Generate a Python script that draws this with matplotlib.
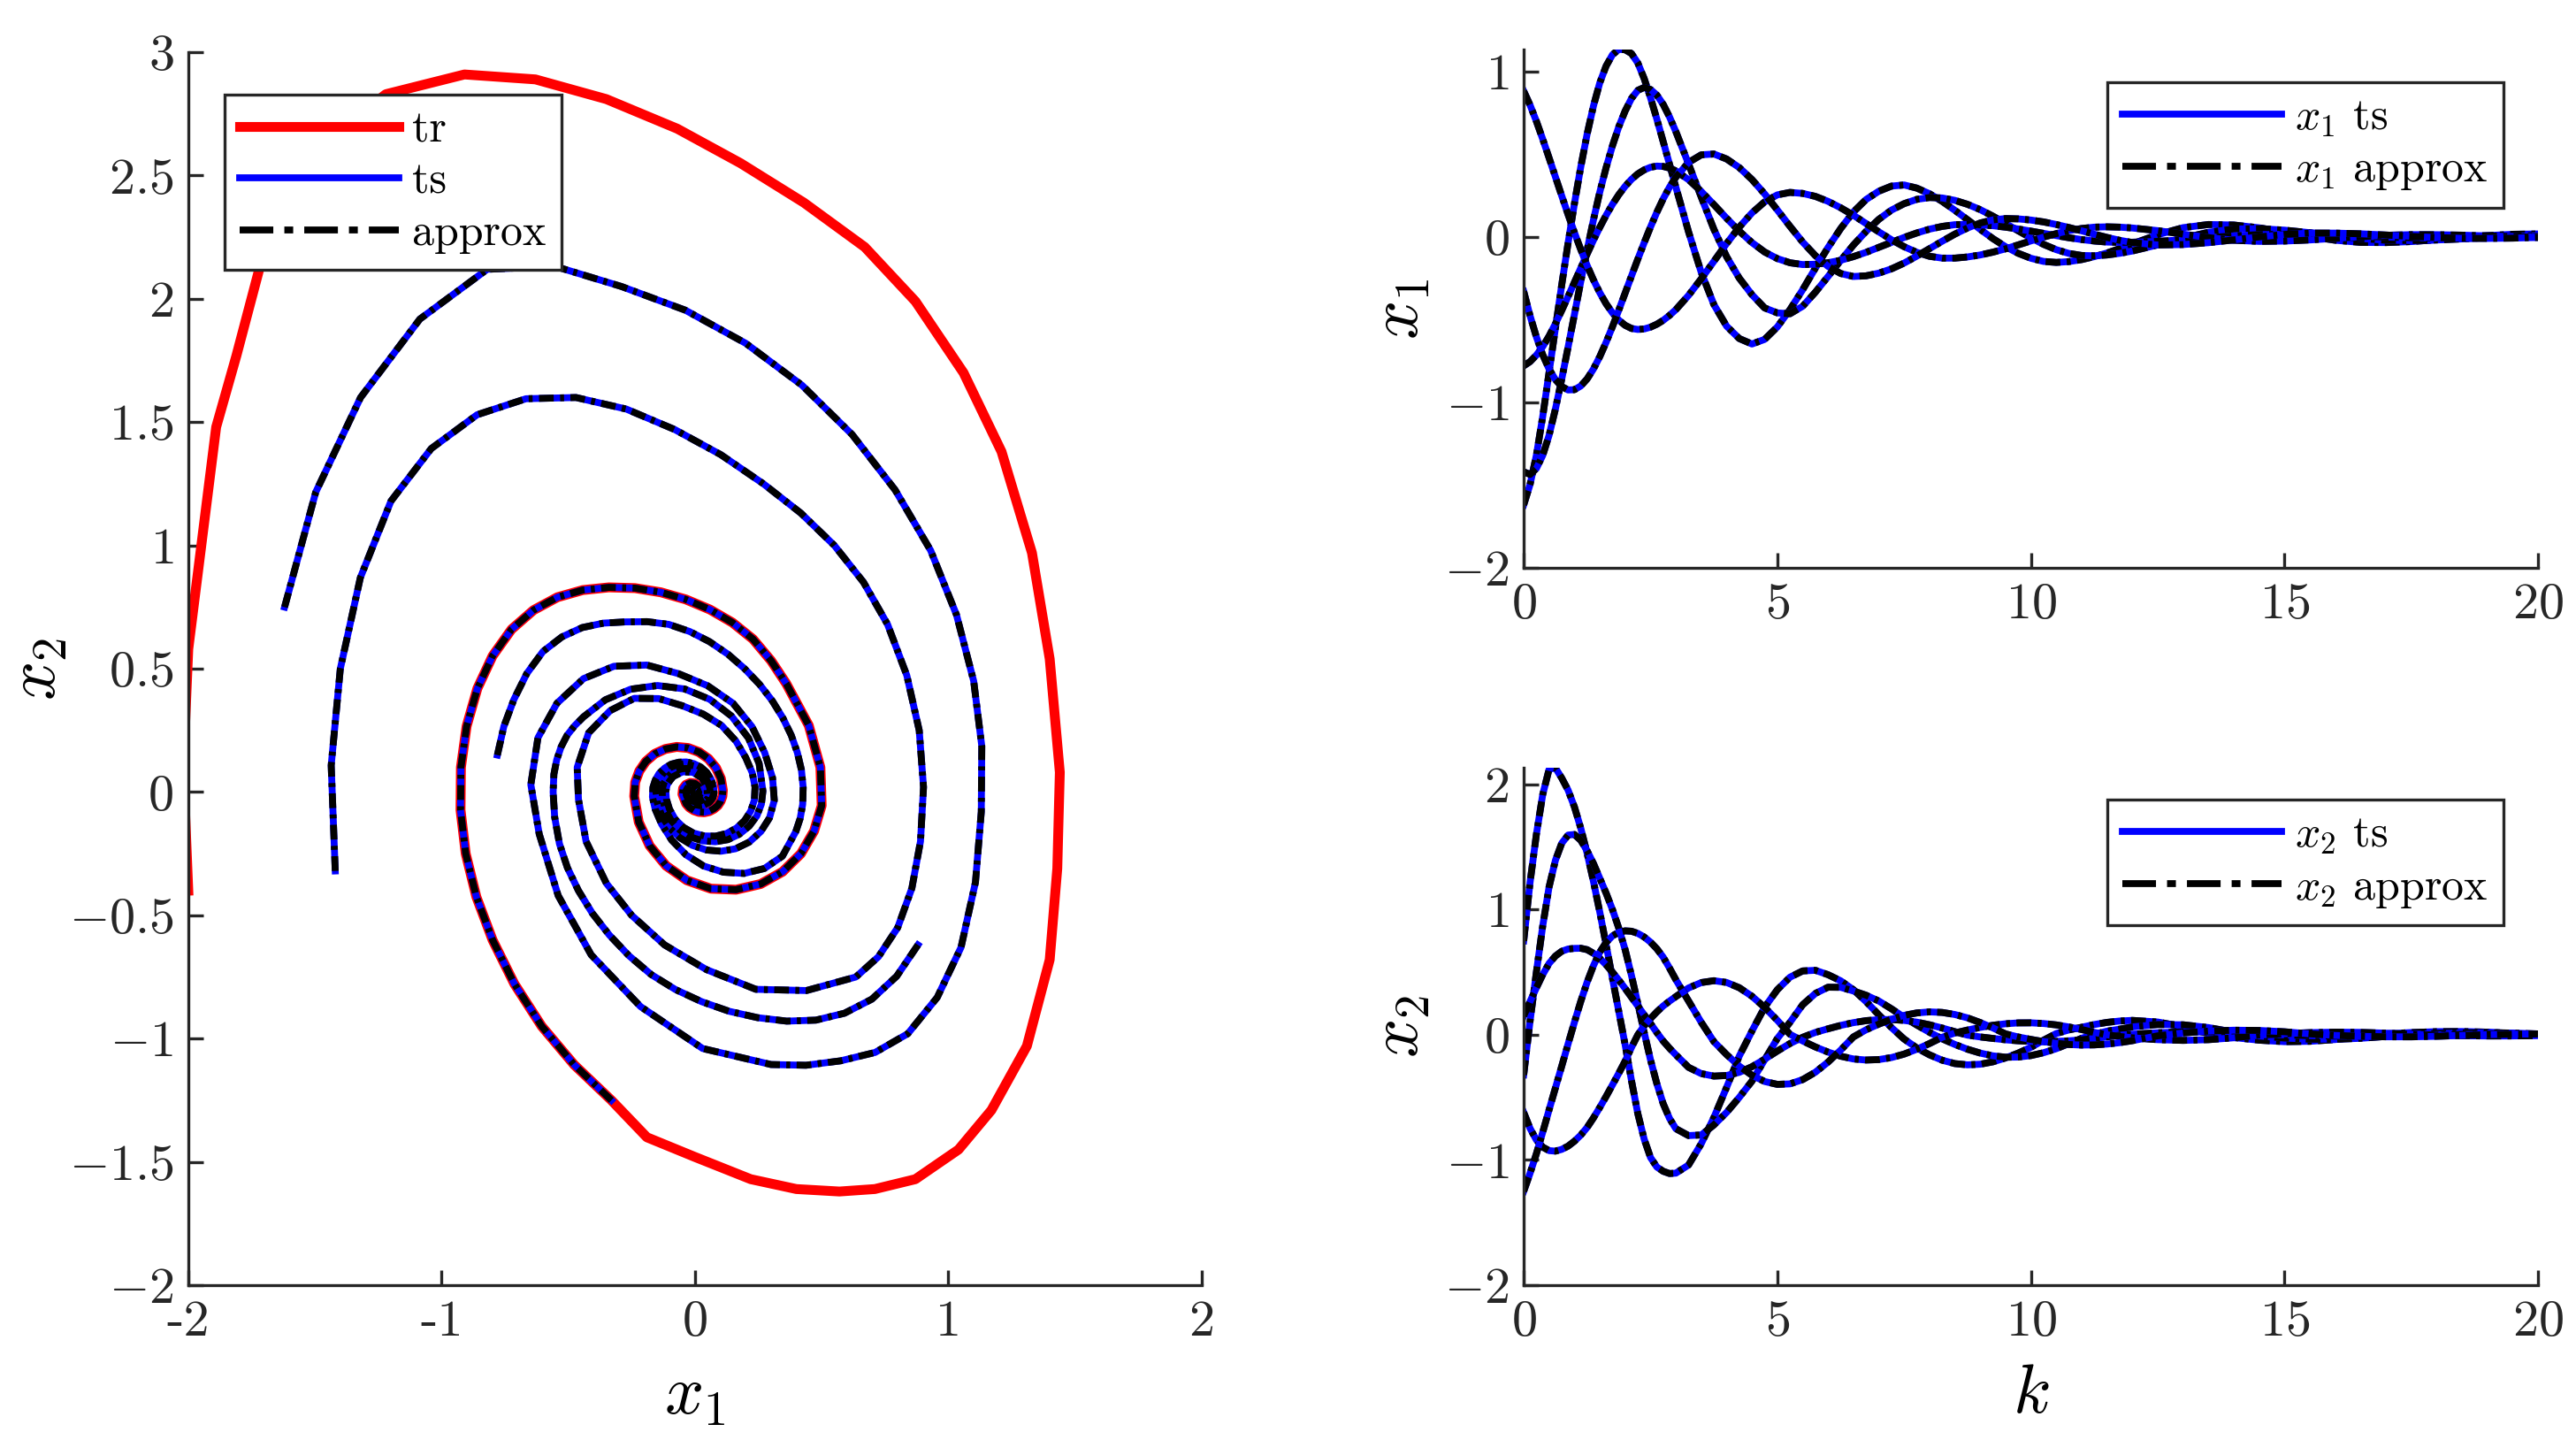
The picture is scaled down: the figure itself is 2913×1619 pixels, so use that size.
import matplotlib
matplotlib.use("Agg")
import matplotlib.pyplot as plt
from matplotlib.lines import Line2D
from matplotlib.ticker import FuncFormatter

plt.rcParams['font.family'] = 'serif'
plt.rcParams['font.serif'] = ['cmr10']
plt.rcParams['mathtext.fontset'] = 'cm'
plt.rcParams['axes.formatter.use_mathtext'] = True
plt.rcParams['lines.scale_dashes'] = False

# time axis (finer where the states move fast)
k = [0, 0.125, 0.25, 0.375, 0.5, 0.625, 0.75, 0.875, 1, 1.125, 1.25, 1.375, 1.5, 1.625,
     1.75, 1.875, 2, 2.125, 2.25, 2.375, 2.5, 2.625, 2.75, 2.875, 3,
     3.25, 3.5, 3.75, 4, 4.25, 4.5, 4.75, 5, 5.25, 5.5, 5.75, 6,
     6.25, 6.5, 6.75, 7, 7.25, 7.5, 7.75, 8, 8.25, 8.5, 8.75, 9, 9.25, 9.5, 9.75, 10,
     10.25, 10.5, 10.75, 11, 11.25, 11.5, 11.75, 12,
     12.5, 13, 13.5, 14, 14.5, 15, 15.5, 16, 16.5, 17, 17.5, 18, 18.5, 19, 19.5, 20]

# five test trajectories (x1, x2)
x1_a = [-1.62, -1.497, -1.32, -1.086, -0.82, -0.553, -0.29, -0.038, 0.20, 0.422, 0.62, 0.790,
        0.93, 1.032, 1.10, 1.132, 1.13, 1.107, 1.05, 0.956, 0.84, 0.711, 0.575, 0.438, 0.30,
        0.03, -0.215, -0.41, -0.54, -0.615, -0.648, -0.62, -0.545, -0.44, -0.32, -0.19, -0.065,
        0.05, 0.15, 0.225, 0.275, 0.306, 0.313, 0.294, 0.26, 0.214, 0.16, 0.103, 0.045, -0.011,
        -0.06, -0.100, -0.13, -0.149, -0.155, -0.150, -0.138, -0.120, -0.098, -0.0715, -0.043,
        0.0125, 0.055, 0.074, 0.071, 0.054, 0.029, 0.0018, -0.021, -0.034, -0.035, -0.029,
        -0.018, -0.005, 0.007, 0.015, 0.017]
x2_a = [0.75, 1.216, 1.60, 1.918, 2.12, 2.132, 2.05, 1.954, 1.82, 1.65, 1.45, 1.225, 0.98,
        0.719, 0.45, 0.186, -0.08, -0.366, -0.63, -0.833, -0.98, -1.056, -1.09, -1.108, -1.105,
        -1.04, -0.87, -0.66, -0.42, -0.17, 0.03, 0.22, 0.36, 0.46, 0.51, 0.515, 0.48,
        0.431, 0.36, 0.265, 0.16, 0.058, -0.034, -0.105, -0.16, -0.203, -0.23, -0.24, -0.235,
        -0.216, -0.185, -0.146, -0.10, -0.043, 0.01, 0.039, 0.06, 0.082, 0.099, 0.110, 0.115,
        0.102, 0.065, 0.011, -0.022, -0.043, -0.055, -0.052, -0.038, -0.014, 0.007, 0.018,
        0.025, 0.026, 0.021, 0.010, 0.0]

x1_b = [-1.42, -1.436, -1.40, -1.321, -1.20, -1.041, -0.86, -0.667, -0.47, -0.271, -0.08,
        0.102, 0.27, 0.418, 0.55, 0.665, 0.76, 0.836, 0.885, 0.902, 0.89, 0.856, 0.80, 0.724,
        0.635,
        0.44, 0.24, 0.045, -0.12, -0.25, -0.35, -0.43, -0.46, -0.465, -0.42, -0.335, -0.24,
        -0.143, -0.05, 0.0325, 0.105, 0.161, 0.20, 0.226, 0.237, 0.2345, 0.22, 0.196, 0.164,
        0.1245, 0.081, 0.036, -0.007, -0.046, -0.078, -0.1007, -0.113, -0.115, -0.11, -0.100,
        -0.086,
        -0.049, -0.008, 0.027, 0.047, 0.049, 0.04, 0.0244, 0.006, -0.0103, -0.021, -0.0228,
        -0.0195, -0.013, -0.005, 0.003, 0.008]
x2_b = [-0.32, 0.108, 0.50, 0.869, 1.18, 1.393, 1.53, 1.595, 1.60, 1.553, 1.47, 1.368, 1.25,
        1.131, 1.00, 0.851, 0.68, 0.473, 0.25, 0.02, -0.20, -0.39, -0.55, -0.668, -0.75,
        -0.805, -0.80, -0.72, -0.62, -0.50, -0.37, -0.20, -0.03, 0.10, 0.24, 0.33, 0.38,
        0.379, 0.35, 0.316, 0.27, 0.2075, 0.14, 0.078, 0.02, -0.032, -0.077, -0.1155, -0.146,
        -0.168, -0.179, -0.178, -0.166, -0.143, -0.111, -0.0696, -0.028, 0.0036, 0.029, 0.045,
        0.063,
        0.082, 0.08, 0.0576, 0.021, -0.0093, -0.026, -0.0353, -0.036, -0.028, -0.013, 0.0025,
        0.010, 0.0153, 0.017, 0.0137, 0.007]

x1_c = [-0.78, -0.7545, -0.715, -0.664, -0.60, -0.5255, -0.445, -0.361, -0.275, -0.189,
        -0.104, -0.021, 0.057, 0.130, 0.196, 0.2545, 0.305, 0.347, 0.38, 0.404, 0.42, 0.427,
        0.425, 0.415, 0.398,
        0.345, 0.274, 0.194, 0.112, 0.034, -0.035, -0.092, -0.132, -0.157, -0.168, -0.166,
        -0.157,
        -0.142, -0.12, -0.094, -0.064, -0.034, -0.004, 0.023, 0.046, 0.0625, 0.073, 0.075,
        0.072, 0.0668, 0.058, 0.047, 0.034, 0.0205, 0.007, -0.006, -0.017, -0.0257, -0.032,
        -0.034, -0.033,
        -0.028, -0.018, -0.0058, 0.0055, 0.013, 0.015, 0.013, 0.0088, 0.0035, -0.0018, -0.0056,
        -0.007, -0.0064, -0.004, -0.0023, 0.002]
x2_c = [0.15, 0.266, 0.375, 0.4805, 0.57, 0.629, 0.667, 0.685, 0.69, 0.691, 0.68, 0.651, 0.61,
        0.559, 0.50, 0.437, 0.37, 0.30, 0.23, 0.16, 0.09, 0.018, -0.05, -0.1075, -0.16,
        -0.26, -0.31, -0.33, -0.325, -0.30, -0.255, -0.195, -0.13, -0.07, -0.02, 0.019, 0.048,
        0.075, 0.097, 0.113, 0.121, 0.122, 0.115, 0.101, 0.080, 0.054, 0.025, -0.0028, -0.017,
        -0.029, -0.040, -0.048, -0.053, -0.055, -0.053, -0.048, -0.040, -0.029, -0.017, -0.003,
        0.005,
        0.016, 0.023, 0.0245, 0.020, 0.0098, -0.001, -0.0063, -0.010, -0.0111, -0.0095, -0.0054,
        0.0, 0.0024, 0.005, 0.0049, 0.004]

x1_d = [0.88, 0.796, 0.698, 0.590, 0.477, 0.362, 0.247, 0.1345, 0.026, -0.077, -0.173,
        -0.2605, -0.338, -0.405, -0.46, -0.5035, -0.535, -0.554, -0.56, -0.557, -0.546,
        -0.5285, -0.505, -0.475, -0.44,
        -0.354, -0.254, -0.148, -0.041, 0.058, 0.144, 0.211, 0.253, 0.268, 0.262, 0.244, 0.214,
        0.175, 0.13, 0.080, 0.03, -0.018, -0.06, -0.094, -0.118, -0.129, -0.129, -0.122, -0.110,
        -0.093, -0.073, -0.049, -0.025, -0.002, 0.019, 0.037, 0.050, 0.058, 0.06, 0.058, 0.053,
        0.037, 0.016, -0.0053, -0.021, -0.028, -0.026, -0.0192, -0.0096, 0.0006, 0.009, 0.0128,
        0.0125, 0.0097, 0.0054, 0.0007, -0.0034]
x2_d = [-0.62, -0.747, -0.84, -0.897, -0.925, -0.929, -0.915, -0.889, -0.85, -0.801, -0.74,
        -0.664, -0.58, -0.492, -0.40, -0.307, -0.21, -0.101, 0.0, 0.072, 0.13, 0.183, 0.23,
        0.269, 0.305,
        0.374, 0.417, 0.432, 0.418, 0.376, 0.308, 0.219, 0.116, 0.004, -0.049, -0.097, -0.138,
        -0.171, -0.193, -0.2016, -0.198, -0.182, -0.154, -0.1155, -0.07, -0.020, 0.0145, 0.038,
        0.059, 0.076, 0.088, 0.095, 0.0955, 0.090, 0.079, 0.0625, 0.042, 0.019, 0.0, -0.0133,
        -0.024,
        -0.039, -0.0446, -0.039, -0.024, -0.0022, 0.009, 0.0172, 0.021, 0.0193, 0.013, 0.0032,
        -0.003, -0.0073, -0.0094, -0.0092, -0.0066]

x1_e = [-0.33, -0.477, -0.605, -0.713, -0.799, -0.863, -0.905, -0.9255, -0.924, -0.9015,
        -0.859, -0.799, -0.724, -0.6375, -0.543, -0.443, -0.34, -0.237, -0.135, -0.036, 0.059,
        0.148, 0.229, 0.300, 0.36,
        0.449, 0.495, 0.50, 0.47, 0.418, 0.346, 0.259, 0.162, 0.063, -0.032, -0.114, -0.179,
        -0.222, -0.24, -0.236, -0.22, -0.194, -0.159, -0.117, -0.072, -0.027, 0.016, 0.053,
        0.083, 0.102, 0.11, 0.108, 0.101, 0.0897, 0.074, 0.0558, 0.036, 0.0153, -0.004,
        -0.0214, -0.035,
        -0.0496, -0.047, -0.0358, -0.019, -0.0008, 0.014, 0.0223, 0.022, 0.0179, 0.0106, 0.0024,
        -0.005, -0.0092, -0.01, -0.0082, -0.004]
x2_e = [-1.25, -1.106, -0.95, -0.778, -0.60, -0.425, -0.25, -0.073, 0.10, 0.267, 0.42, 0.552,
        0.66, 0.7375, 0.79, 0.819, 0.83, 0.827, 0.81, 0.781, 0.74, 0.687, 0.62, 0.533, 0.44,
        0.27, 0.10, -0.055, -0.158, -0.25, -0.323, -0.373, -0.396, -0.392, -0.358, -0.299,
        -0.218,
        -0.122, -0.017, 0.040, 0.085, 0.124, 0.155, 0.1746, 0.183, 0.1786, 0.162, 0.135, 0.098,
        0.055, 0.007, -0.0175, -0.037, -0.0546, -0.068, -0.0776, -0.082, -0.0806, -0.074,
        -0.0628, -0.047,
        -0.0084, 0.0146, 0.0293, 0.0366, 0.0347, 0.024, 0.0074, -0.005, -0.0121, -0.016, -0.0162,
        -0.012, -0.005, 0.001, 0.005, 0.007]

# training trajectory, outer part (it then runs along trajectory e)
tr_x1 = [-2.0, -2.02, -2.0, -1.89, -1.81, -1.72, -1.62, -1.45, -1.22, -0.91, -0.63, -0.35,
         -0.07, 0.18, 0.43, 0.67, 0.87, 1.06, 1.21, 1.33, 1.40, 1.44, 1.43, 1.40, 1.31, 1.17,
         1.04, 0.87, 0.71, 0.57, 0.40, 0.22, 0.0, -0.19]
tr_x2 = [-0.40, 0.10, 0.58, 1.48, 1.77, 2.12, 2.40, 2.65, 2.83, 2.91, 2.89, 2.81, 2.69, 2.55,
         2.39, 2.21, 1.99, 1.70, 1.38, 0.97, 0.54, 0.08, -0.31, -0.68, -1.03, -1.29, -1.45,
         -1.57, -1.61, -1.62, -1.61, -1.57, -1.48, -1.40]

x1_all = [x1_a, x1_b, x1_c, x1_d, x1_e]
x2_all = [x2_a, x2_b, x2_c, x2_d, x2_e]

ax_col = '#262626'
dash_line = (6.0, 2.6, 1.6, 2.6)      # dash-dot on the curves
dash_leg = (13.7, 4.5, 3.6, 4.5)      # dash-dot in the legends
lw = 2.8

fig = plt.figure(figsize=(14.565, 8.095), dpi=200)


def style(ax, fs=21):
    ax.spines['top'].set_visible(False)
    ax.spines['right'].set_visible(False)
    for s in ['left', 'bottom']:
        ax.spines[s].set_color(ax_col)
        ax.spines[s].set_linewidth(1.2)
    ax.tick_params(direction='in', length=6, width=1.2, color=ax_col,
                   labelcolor=ax_col, labelsize=fs, pad=6)


def add_legend(ax, handles, labels, anchor):
    leg = ax.legend(handles, labels, loc='upper left', bbox_to_anchor=anchor,
                    borderaxespad=0, fontsize=18, handlelength=3.6, handletextpad=0.3,
                    labelspacing=0.25, borderpad=0.35, fancybox=False,
                    framealpha=1, edgecolor=ax_col)
    leg.get_frame().set_linewidth(1.2)
    return leg


math_fmt = FuncFormatter(lambda v, p: '$%g$' % v)
leg_tr = Line2D([], [], color='red', lw=4.0)
leg_ts = Line2D([], [], color='blue', lw=lw)
leg_ap = Line2D([], [], color='black', lw=lw, dashes=dash_leg)

# Phase plane
ax1 = fig.add_axes([0.0731, 0.1025, 0.3934, 0.861])
ax1.plot(tr_x1 + x1_e, tr_x2 + x2_e, color='red', lw=4.0)
for i in range(5):
    ax1.plot(x1_all[i], x2_all[i], color='blue', lw=lw)
for i in range(5):
    ax1.plot(x1_all[i], x2_all[i], color='black', lw=lw, dashes=dash_line)
ax1.set_xlim(-2, 2)
ax1.set_ylim(-2, 3)
style(ax1)
ax1.set_xticks([-2, -1, 0, 1, 2])
ax1.set_xticklabels(['-2', '-1', '0', '1', '2'])
ax1.set_yticks([-2, -1.5, -1, -0.5, 0, 0.5, 1, 1.5, 2, 2.5, 3])
ax1.yaxis.set_major_formatter(math_fmt)
ax1.set_xlabel('$x_1$', fontsize=28)
ax1.set_ylabel('$x_2$', fontsize=28)
ax1.xaxis.set_label_coords(0.5, -0.066)
ax1.yaxis.set_label_coords(-0.118, 0.5)
add_legend(ax1, [leg_tr, leg_ts, leg_ap], ['tr', 'ts', 'approx'], (0.0358, 0.9656))

# x1 over k
ax2 = fig.add_axes([0.5915, 0.6035, 0.3938, 0.362])
for i in range(5):
    ax2.plot(k, x1_all[i], color='blue', lw=lw)
    ax2.plot(k, x1_all[i], color='black', lw=lw, dashes=dash_line)
ax2.set_xlim(0, 20)
ax2.set_ylim(-2, max(max(s) for s in x1_all))
style(ax2)
ax2.set_xticks([0, 5, 10, 15, 20])
ax2.set_yticks([-2, -1, 0, 1])
ax2.yaxis.set_major_formatter(math_fmt)
ax2.xaxis.set_major_formatter(math_fmt)
ax2.set_ylabel('$x_1$', fontsize=28)
ax2.yaxis.set_label_coords(-0.091, 0.5)
add_legend(ax2, [leg_ts, leg_ap], ['$x_1$ ts', '$x_1$ approx'], (0.575, 0.937))

# x2 over k
ax3 = fig.add_axes([0.5915, 0.1025, 0.3938, 0.3613])
for i in range(5):
    ax3.plot(k, x2_all[i], color='blue', lw=lw)
    ax3.plot(k, x2_all[i], color='black', lw=lw, dashes=dash_line)
ax3.set_xlim(0, 20)
ax3.set_ylim(-2, max(max(s) for s in x2_all))
style(ax3)
ax3.set_xticks([0, 5, 10, 15, 20])
ax3.set_yticks([-2, -1, 0, 1, 2])
ax3.yaxis.set_major_formatter(math_fmt)
ax3.xaxis.set_major_formatter(math_fmt)
ax3.set_ylabel('$x_2$', fontsize=28)
ax3.yaxis.set_label_coords(-0.091, 0.5)
ax3.set_xlabel('$k$', fontsize=28, labelpad=8)
add_legend(ax3, [leg_ts, leg_ap], ['$x_2$ ts', '$x_2$ approx'], (0.575, 0.938))

fig.savefig('out.png', dpi=200)
